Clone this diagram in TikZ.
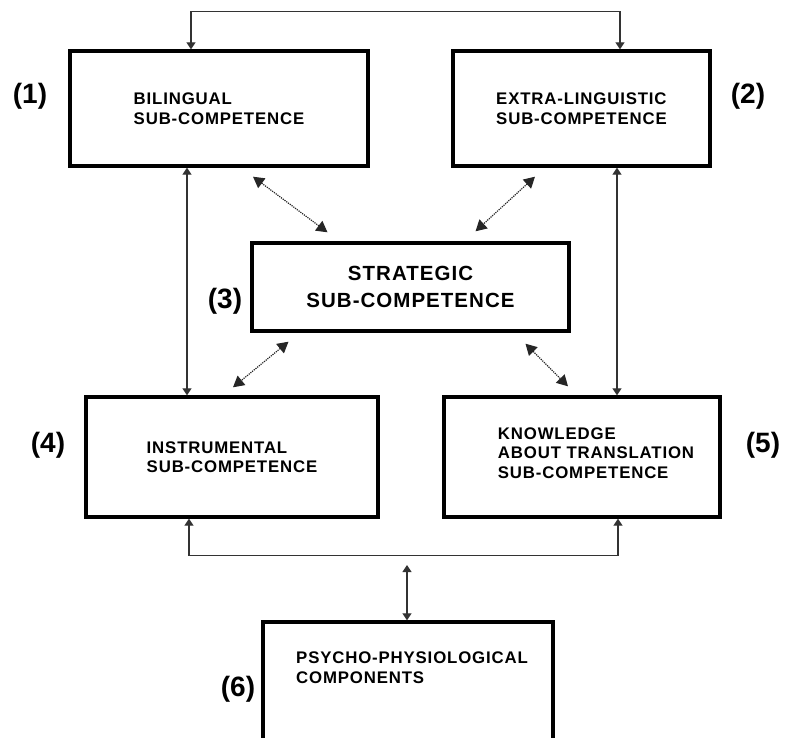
\documentclass[tikz,border=0pt]{standalone}
\usepackage{fontspec}
\setmainfont{Liberation Sans}
\newfontfamily\boxfont[LetterSpace=5.0]{Liberation Sans}
\usepackage{tikz}
\usetikzlibrary{arrows.meta,positioning}
\usepackage{xcolor}

\begin{document}
\begin{tikzpicture}[
    x=1pt, y=-1pt,
    box/.style={rectangle, draw=black, line width=3.4pt, fill=white,
                align=left, font=\boxfont\bfseries\fontsize{16.8}{19.5}\selectfont},
    num/.style={font=\bfseries\fontsize{28}{30}\selectfont},
    arr/.style={{Triangle[length=7pt,width=9pt]}-{Triangle[length=7pt,width=9pt]},
                line width=1.2pt, black!80},
    diag/.style={{Triangle[length=11pt,width=12pt]}-{Triangle[length=11pt,width=12pt]},
                 line width=1.2pt, densely dotted, black!85}
]
\useasboundingbox (0,0) rectangle (785,738);
\clip (0,0) rectangle (785,738);

% --- Row 1: language sub-competences ---
\node[box, minimum width=298, minimum height=115] (bilingual) at (219,108.5) {BILINGUAL\\SUB-COMPETENCE};
\node[box, minimum width=257, minimum height=115] (extra) at (581.5,108.5) {EXTRA-LINGUISTIC\\SUB-COMPETENCE};

% --- Row 2: central box ---
\node[box, align=center, minimum width=317, minimum height=88,
      font=\boxfont\bfseries\fontsize{20.5}{27}\selectfont] (strategic) at (410.5,287) {STRATEGIC\\SUB-COMPETENCE};

% --- Row 3: instrumental and knowledge ---
\node[box, minimum width=292, minimum height=120] (instrumental) at (232,457) {INSTRUMENTAL\\SUB-COMPETENCE};
\node[box, minimum width=276, minimum height=120, text depth=8pt] (knowledge) at (582,457)
     {\hspace*{28pt}KNOWLEDGE\\\hspace*{28pt}ABOUT TRANSLATION\\\hspace*{28pt}SUB-COMPETENCE};

% --- Row 4: components (cut at the bottom) ---
\node[box, minimum width=290, minimum height=160] (psycho) at (408,702) {};
\node[font=\boxfont\bfseries\fontsize{16.8}{19.5}\selectfont, align=left, anchor=north]
     (psychotext) at ([xshift=4pt,yshift=-28pt]psycho.north) {PSYCHO-PHYSIOLOGICAL\\COMPONENTS};
\coordinate (psyjoin) at (407,565);

% numbers
\node[num] (n1) at (30,96) {(1)};
\node[num] (n2) at (748,96) {(2)};
\node[num] (n3) at (225,301) {(3)};
\node[num] (n4) at (48,445) {(4)};
\node[num] (n5) at (763,445) {(5)};
\node[num] (n6) at (238,689) {(6)};

% arrows
\draw[arr] ([xshift=-28pt]bilingual.north) -- ++(0,-38) -| ([xshift=38.5pt]extra.north);
\draw[arr] ([xshift=-32pt]bilingual.south) -- ([xshift=-32pt]bilingual.south |- instrumental.north);
\draw[arr] ([xshift=35.5pt]extra.south) -- ([xshift=35.5pt]extra.south |- knowledge.north);
\draw[arr] ([xshift=-43pt]instrumental.south) -- ++(0,37) -| ([xshift=36pt]knowledge.south);
\draw[arr] (psyjoin) -- (psyjoin |- psycho.north);

\draw[diag] ([xshift=34pt,yshift=-9pt]bilingual.south) -- ([xshift=-83pt,yshift=9pt]strategic.north);
\draw[diag] ([xshift=-46.5pt,yshift=-9pt]extra.south) -- ([xshift=65pt,yshift=10pt]strategic.north);
\draw[diag] ([xshift=-122pt,yshift=-9pt]strategic.south) -- ([xshift=1pt,yshift=8pt]instrumental.north);
\draw[diag] ([xshift=115pt,yshift=-11pt]strategic.south) -- ([xshift=-14pt,yshift=9pt]knowledge.north);

\end{tikzpicture}
\end{document}
